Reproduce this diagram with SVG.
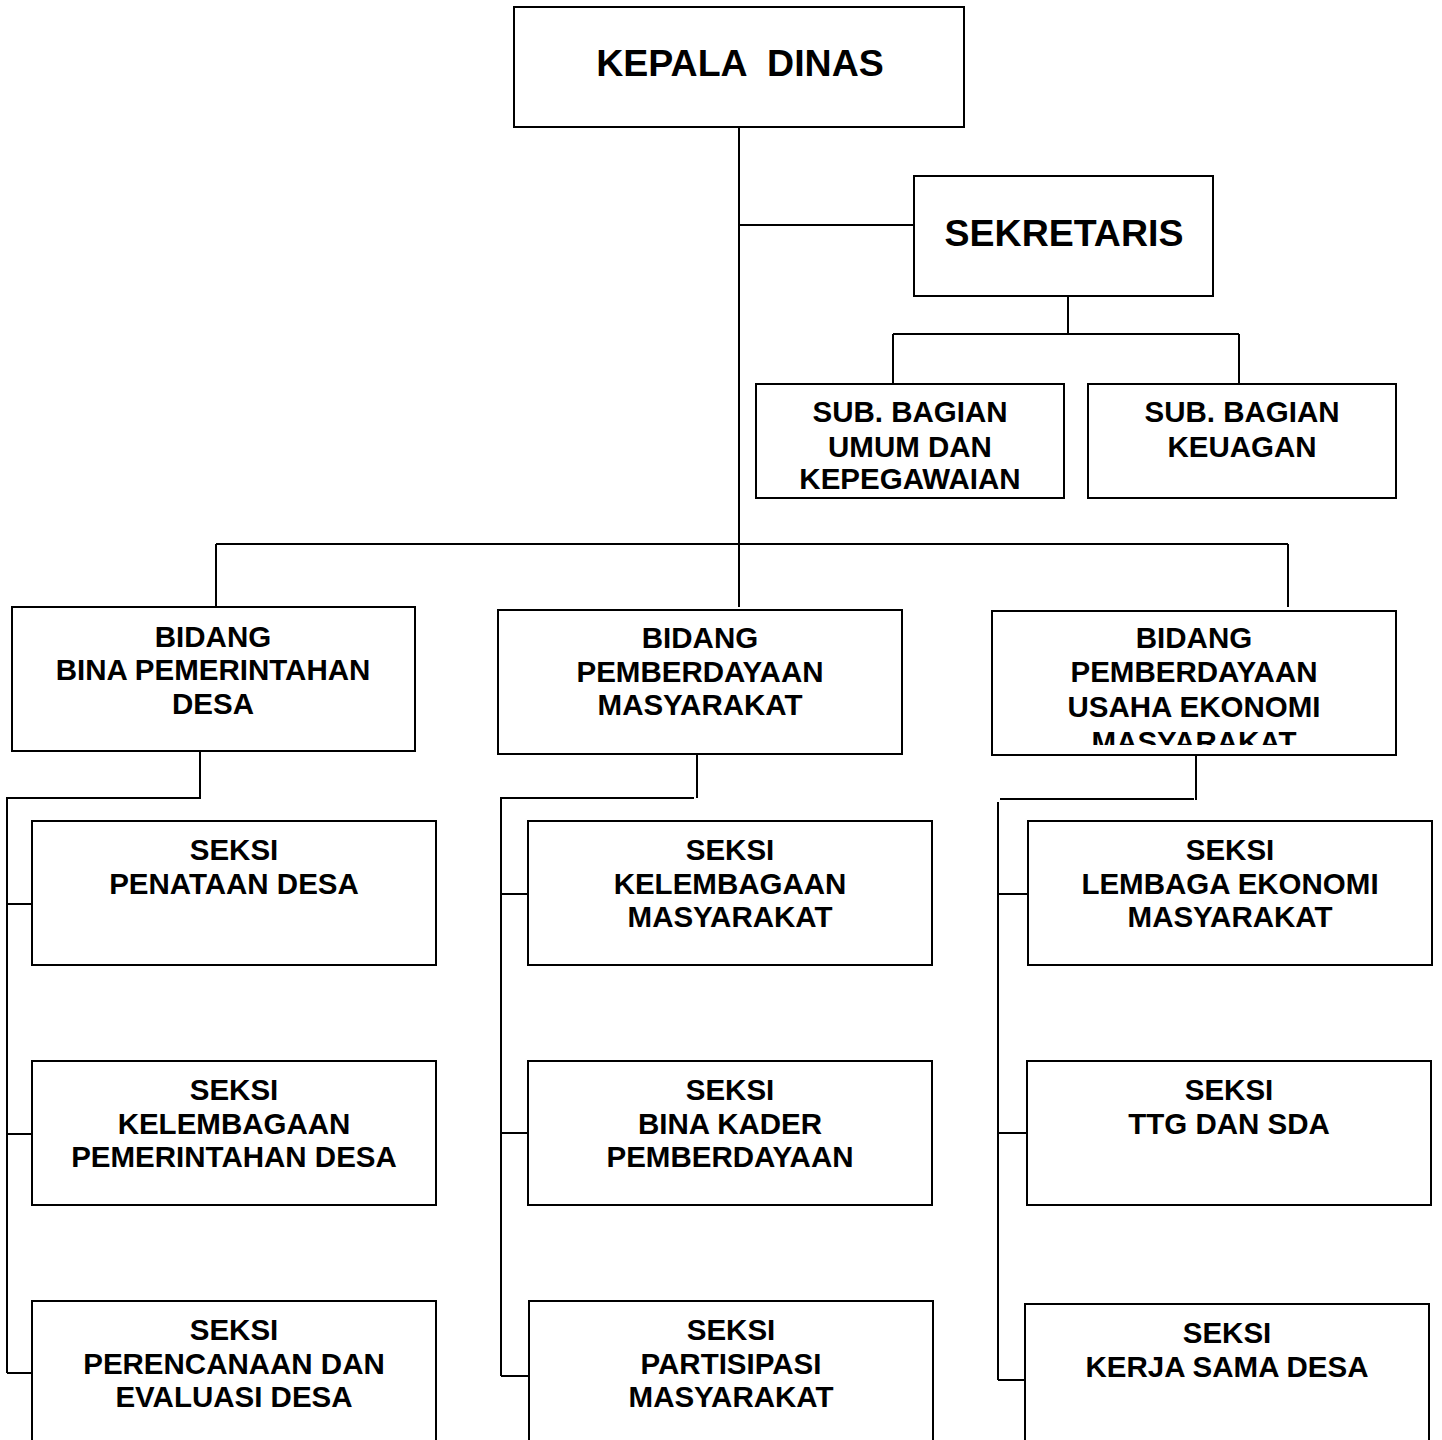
<svg xmlns="http://www.w3.org/2000/svg" width="1442" height="1440" viewBox="0 0 1442 1440">
<style>
.box{fill:#fff;stroke:#000;stroke-width:2}
.c{fill:none;stroke:#000;stroke-width:2}
text{font-family:"Liberation Sans",Arial,sans-serif;font-weight:bold;fill:#000;text-anchor:middle}
.t{font-size:29.5px}
.big{font-size:37.5px}
</style>
<defs>
<clipPath id="clipR"><rect x="992" y="611" width="404" height="134"/></clipPath>
</defs>
<rect width="1442" height="1440" fill="#fff"/>
<g id="connectors">
<path class="c" d="M739 127V607M739 225H914M216 544H1288M216 544V607M1288 544V607"/>
<path class="c" d="M1068 296V334M893 334H1239M893 334V384M1239 334V384"/>
<path class="c" d="M200 751V798H7V1373M7 904H32M7 1134H32M7 1373H32"/>
<path class="c" d="M697 752V798M694 798H501V1376M501 894H528M501 1133H528M501 1376H528"/>
<path class="c" d="M1196 752V800M1194 799H1000M998 802V1380M998 894H1028M998 1133H1027M998 1380H1025"/>
</g>
<g id="kepala-dinas"><rect class="box" x="514" y="7" width="450" height="120"/><text class="big" x="740" y="76" xml:space="preserve">KEPALA  DINAS</text></g>
<g id="sekretaris"><rect class="box" x="914" y="176" width="299" height="120"/><text class="big" x="1064" y="246">SEKRETARIS</text></g>
<g id="sub-umum"><rect class="box" x="756" y="384" width="308" height="114"/><text class="t" x="910" y="422">SUB. BAGIAN</text><text class="t" x="910" y="457">UMUM DAN</text><text class="t" x="910" y="489">KEPEGAWAIAN</text></g>
<g id="sub-keuangan"><rect class="box" x="1088" y="384" width="308" height="114"/><text class="t" x="1242" y="422">SUB. BAGIAN</text><text class="t" x="1242" y="457">KEUAGAN</text></g>
<g id="bidang-bina"><rect class="box" x="12" y="607" width="403" height="144"/><text class="t" x="213" y="647">BIDANG</text><text class="t" x="213" y="680">BINA PEMERINTAHAN</text><text class="t" x="213" y="714">DESA</text></g>
<g id="bidang-pm"><rect class="box" x="498" y="610" width="404" height="144"/><text class="t" x="700" y="648">BIDANG</text><text class="t" x="700" y="682">PEMBERDAYAAN</text><text class="t" x="700" y="715">MASYARAKAT</text></g>
<g id="bidang-puem"><rect class="box" x="992" y="611" width="404" height="144"/><text class="t" x="1194" y="648">BIDANG</text><text class="t" x="1194" y="682">PEMBERDAYAAN</text><text class="t" x="1194" y="717">USAHA EKONOMI</text><text class="t" x="1194" y="752" clip-path="url(#clipR)">MASYARAKAT</text></g>
<g id="seksi-penataan"><rect class="box" x="32" y="821" width="404" height="144"/><text class="t" x="234" y="860">SEKSI</text><text class="t" x="234" y="894">PENATAAN DESA</text></g>
<g id="seksi-kel-pem"><rect class="box" x="32" y="1061" width="404" height="144"/><text class="t" x="234" y="1100">SEKSI</text><text class="t" x="234" y="1134">KELEMBAGAAN</text><text class="t" x="234" y="1167">PEMERINTAHAN DESA</text></g>
<g id="seksi-perencanaan"><rect class="box" x="32" y="1301" width="404" height="160"/><text class="t" x="234" y="1340">SEKSI</text><text class="t" x="234" y="1374">PERENCANAAN DAN</text><text class="t" x="234" y="1407">EVALUASI DESA</text></g>
<g id="seksi-kel-mas"><rect class="box" x="528" y="821" width="404" height="144"/><text class="t" x="730" y="860">SEKSI</text><text class="t" x="730" y="894">KELEMBAGAAN</text><text class="t" x="730" y="927">MASYARAKAT</text></g>
<g id="seksi-kader"><rect class="box" x="528" y="1061" width="404" height="144"/><text class="t" x="730" y="1100">SEKSI</text><text class="t" x="730" y="1134">BINA KADER</text><text class="t" x="730" y="1167">PEMBERDAYAAN</text></g>
<g id="seksi-partisipasi"><rect class="box" x="529" y="1301" width="404" height="160"/><text class="t" x="731" y="1340">SEKSI</text><text class="t" x="731" y="1374">PARTISIPASI</text><text class="t" x="731" y="1407">MASYARAKAT</text></g>
<g id="seksi-lembaga"><rect class="box" x="1028" y="821" width="404" height="144"/><text class="t" x="1230" y="860">SEKSI</text><text class="t" x="1230" y="894">LEMBAGA EKONOMI</text><text class="t" x="1230" y="927">MASYARAKAT</text></g>
<g id="seksi-ttg"><rect class="box" x="1027" y="1061" width="404" height="144"/><text class="t" x="1229" y="1100">SEKSI</text><text class="t" x="1229" y="1134">TTG DAN SDA</text></g>
<g id="seksi-kerjasama"><rect class="box" x="1025" y="1304" width="404" height="160"/><text class="t" x="1227" y="1343">SEKSI</text><text class="t" x="1227" y="1377">KERJA SAMA DESA</text></g>
</svg>
